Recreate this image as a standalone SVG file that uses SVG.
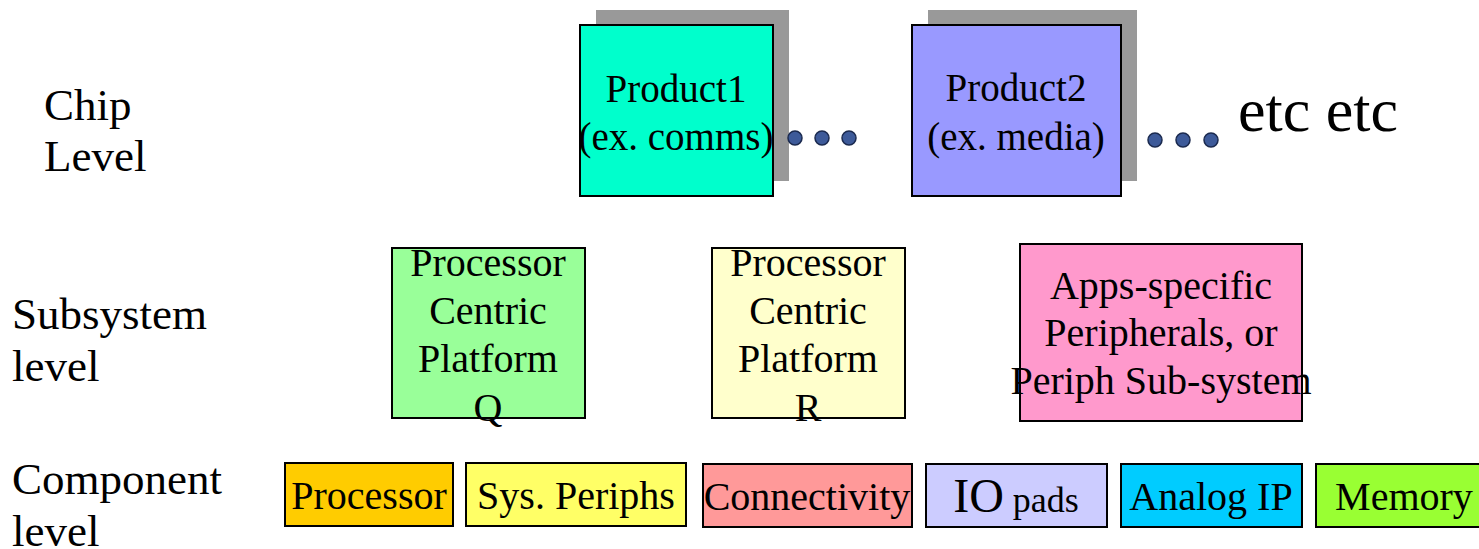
<svg xmlns="http://www.w3.org/2000/svg" width="1479" height="549" viewBox="0 0 1479 549">
<style>
text{font-family:"Liberation Serif","Times New Roman",serif;fill:#000}
.lbl{font-size:45px}
.t{font-size:40px;text-anchor:middle}
.p{font-size:39px;text-anchor:middle}
.box{stroke:#000;stroke-width:2}
.shadow{fill:#999999}
.dot{fill:#3d5a99;stroke:#1b2a4f;stroke-width:1.5}
</style>
<rect width="1479" height="549" fill="#fff"/>
<g id="level-labels">
<text class="lbl" x="44" y="120">Chip</text>
<text class="lbl" x="44" y="171">Level</text>
<text class="lbl" x="12" y="329">Subsystem</text>
<text class="lbl" x="12" y="381">level</text>
<text class="lbl" x="12" y="494">Component</text>
<text class="lbl" x="12" y="546">level</text>
</g>
<g id="product1">
<rect class="shadow" x="596" y="10" width="193" height="171"/>
<rect class="box" x="580" y="25" width="193" height="171" fill="#00ffcc"/>
<text class="p" x="676" y="102">Product1</text>
<text class="p" x="676" y="150">(ex. comms)</text>
</g>
<g id="dots1">
<circle class="dot" cx="795" cy="138" r="7"/>
<circle class="dot" cx="822" cy="138" r="7"/>
<circle class="dot" cx="849" cy="138" r="7"/>
</g>
<g id="product2">
<rect class="shadow" x="928" y="10" width="209" height="171"/>
<rect class="box" x="912" y="25" width="209" height="171" fill="#9999ff"/>
<text class="p" x="1016" y="101">Product2</text>
<text class="p" x="1016" y="150">(ex. media)</text>
</g>
<g id="dots2">
<circle class="dot" cx="1155" cy="140" r="7"/>
<circle class="dot" cx="1183" cy="140" r="7"/>
<circle class="dot" cx="1211" cy="140" r="7"/>
</g>
<g id="etc">
<text x="1238" y="131" font-size="62">etc etc</text>
</g>
<g id="platform-q">
<rect class="box" x="392" y="248" width="193" height="170" fill="#99ff99"/>
<text class="t" x="488" y="276">Processor</text>
<text class="t" x="488" y="324">Centric</text>
<text class="t" x="488" y="372">Platform</text>
<text class="t" x="488" y="421">Q</text>
</g>
<g id="platform-r">
<rect class="box" x="712" y="248" width="193" height="170" fill="#ffffcc"/>
<text class="t" x="808" y="276">Processor</text>
<text class="t" x="808" y="324">Centric</text>
<text class="t" x="808" y="372">Platform</text>
<text class="t" x="808" y="421">R</text>
</g>
<g id="apps-periph">
<rect class="box" x="1020" y="244" width="282" height="177" fill="#ff99cc"/>
<text class="t" x="1161" y="299">Apps-specific</text>
<text class="t" x="1161" y="346">Peripherals, or</text>
<text class="t" x="1161" y="394">Periph Sub-system</text>
</g>
<g id="comp-processor">
<rect class="box" x="285" y="463" width="168" height="63" fill="#ffcc00"/>
<text class="t" x="369" y="509">Processor</text>
</g>
<g id="comp-sysperiphs">
<rect class="box" x="466" y="463" width="220" height="63" fill="#ffff66"/>
<text class="t" x="576" y="509">Sys. Periphs</text>
</g>
<g id="comp-connectivity">
<rect class="box" x="703" y="464" width="209" height="63" fill="#ff9999"/>
<text class="t" x="807" y="510">Connectivity</text>
</g>
<g id="comp-iopads">
<rect class="box" x="926" y="464" width="181" height="63" fill="#ccccff"/>
<text x="1016" y="512" text-anchor="middle"><tspan font-size="48">IO</tspan><tspan font-size="36"> pads</tspan></text>
</g>
<g id="comp-analog">
<rect class="box" x="1121" y="464" width="181" height="63" fill="#00ccff"/>
<text class="t" x="1211" y="510">Analog IP</text>
</g>
<g id="comp-memory">
<rect class="box" x="1316" y="464" width="170" height="63" fill="#99ff33"/>
<text class="t" x="1404" y="510">Memory</text>
</g>
<g id="connectors"></g>
</svg>
